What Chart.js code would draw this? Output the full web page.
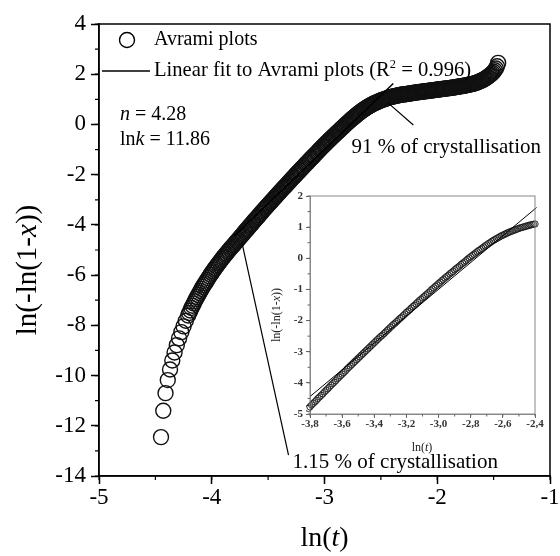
<!DOCTYPE html>
<html>
<head>
<meta charset="utf-8">
<script src="https://cdn.jsdelivr.net/npm/chart.js@4/dist/chart.umd.min.js"></script>
<style>
  html, body { margin: 0; padding: 0; background: #fff; }
  #wrap { position: relative; width: 560px; height: 556px; }
  #main { position: absolute; left: 0; top: 0; }
  #inset { position: absolute; left: 260px; top: 186px; }
</style>
</head>
<body>
<div id="wrap">
  <canvas id="main" width="560" height="556"></canvas>
  <canvas id="inset" width="290" height="280"></canvas>
</div>
<script>
// Avrami plot: ln(t) against ln(-ln(1-x))
const lnT = [
  -4.45, -4.43, -4.41, -4.39, -4.37, -4.35, -4.33, -4.31, -4.29, -4.27,
  -4.25, -4.23, -4.21, -4.20, -4.19, -4.18, -4.17, -4.16, -4.15, -4.14,
  -4.13, -4.12, -4.11, -4.10, -4.09, -4.08, -4.07, -4.06, -4.05, -4.04,
  -4.03, -4.02, -4.01, -4.00, -3.99, -3.98, -3.97, -3.96, -3.95, -3.94,
  -3.93, -3.92, -3.91, -3.90, -3.89, -3.88, -3.87, -3.86, -3.85, -3.84,
  -3.83, -3.82, -3.81, -3.80, -3.79, -3.78, -3.77, -3.76, -3.75, -3.74,
  -3.73, -3.72, -3.71, -3.70, -3.69, -3.68, -3.67, -3.66, -3.65, -3.64,
  -3.63, -3.62, -3.61, -3.60, -3.59, -3.58, -3.57, -3.56, -3.55, -3.54,
  -3.53, -3.52, -3.51, -3.50, -3.49, -3.48, -3.47, -3.46, -3.45, -3.44,
  -3.43, -3.42, -3.41, -3.40, -3.39, -3.38, -3.37, -3.36, -3.35, -3.34,
  -3.33, -3.32, -3.31, -3.30, -3.29, -3.28, -3.27, -3.26, -3.25, -3.24,
  -3.23, -3.22, -3.21, -3.20, -3.19, -3.18, -3.17, -3.16, -3.15, -3.14,
  -3.13, -3.12, -3.11, -3.10, -3.09, -3.08, -3.07, -3.06, -3.05, -3.04,
  -3.03, -3.02, -3.01, -3.00, -2.99, -2.98, -2.97, -2.96, -2.95, -2.94,
  -2.93, -2.92, -2.91, -2.90, -2.89, -2.88, -2.87, -2.86, -2.85, -2.84,
  -2.83, -2.82, -2.81, -2.80, -2.79, -2.78, -2.77, -2.76, -2.75, -2.74,
  -2.73, -2.72, -2.71, -2.70, -2.69, -2.68, -2.67, -2.66, -2.65, -2.64,
  -2.63, -2.62, -2.61, -2.60, -2.59, -2.58, -2.57, -2.56, -2.55, -2.54,
  -2.53, -2.52, -2.51, -2.50, -2.49, -2.48, -2.47, -2.46, -2.45, -2.44,
  -2.43, -2.42, -2.41, -2.40, -2.39, -2.38, -2.37, -2.36, -2.35, -2.34,
  -2.33, -2.32, -2.31, -2.30, -2.29, -2.28, -2.27, -2.26, -2.25, -2.24,
  -2.23, -2.22, -2.21, -2.20, -2.19, -2.18, -2.17, -2.16, -2.15, -2.14,
  -2.13, -2.12, -2.11, -2.10, -2.09, -2.08, -2.07, -2.06, -2.05, -2.04,
  -2.03, -2.02, -2.01, -2.00, -1.99, -1.98, -1.97, -1.96, -1.95, -1.94,
  -1.93, -1.92, -1.91, -1.90, -1.89, -1.88, -1.87, -1.86, -1.85, -1.84,
  -1.83, -1.82, -1.81, -1.80, -1.79, -1.78, -1.77, -1.76, -1.75, -1.74,
  -1.73, -1.72, -1.71, -1.70, -1.69, -1.68, -1.67, -1.66, -1.65, -1.64,
  -1.63, -1.62, -1.61, -1.60, -1.59, -1.58, -1.57, -1.56, -1.55, -1.54,
  -1.53, -1.52, -1.51, -1.50, -1.49, -1.48, -1.47, -1.46
];
const lnLn = [
  -12.45, -11.40, -10.70, -10.18, -9.76, -9.40, -9.08, -8.79, -8.52, -8.27,
  -8.04, -7.82, -7.61, -7.51, -7.41, -7.31, -7.22, -7.13, -7.04, -6.95,
  -6.87, -6.79, -6.71, -6.63, -6.55, -6.47, -6.40, -6.33, -6.26, -6.19,
  -6.12, -6.05, -5.98, -5.91, -5.85, -5.78, -5.72, -5.66, -5.60, -5.54,
  -5.48, -5.42, -5.36, -5.30, -5.25, -5.19, -5.14, -5.08, -5.03, -4.97,
  -4.92, -4.87, -4.82, -4.77, -4.71, -4.66, -4.61, -4.56, -4.50, -4.45,
  -4.40, -4.35, -4.29, -4.24, -4.19, -4.14, -4.08, -4.03, -3.98, -3.93,
  -3.87, -3.82, -3.77, -3.72, -3.67, -3.62, -3.56, -3.51, -3.46, -3.41,
  -3.36, -3.31, -3.26, -3.21, -3.16, -3.11, -3.06, -3.01, -2.96, -2.91,
  -2.86, -2.81, -2.76, -2.71, -2.66, -2.61, -2.56, -2.51, -2.47, -2.42,
  -2.37, -2.32, -2.27, -2.22, -2.17, -2.12, -2.08, -2.03, -1.98, -1.93,
  -1.89, -1.84, -1.79, -1.74, -1.70, -1.65, -1.60, -1.55, -1.51, -1.46,
  -1.41, -1.36, -1.32, -1.27, -1.23, -1.18, -1.14, -1.09, -1.04, -0.99,
  -0.95, -0.90, -0.86, -0.81, -0.77, -0.72, -0.68, -0.63, -0.59, -0.55,
  -0.50, -0.46, -0.42, -0.37, -0.33, -0.29, -0.25, -0.20, -0.16, -0.12,
  -0.08, -0.03, 0.01, 0.05, 0.09, 0.13, 0.17, 0.21, 0.25, 0.28,
  0.32, 0.36, 0.40, 0.43, 0.47, 0.50, 0.54, 0.57, 0.60, 0.63,
  0.66, 0.69, 0.72, 0.74, 0.77, 0.79, 0.82, 0.84, 0.86, 0.88,
  0.90, 0.92, 0.94, 0.96, 0.98, 0.99, 1.01, 1.02, 1.04, 1.05,
  1.07, 1.08, 1.09, 1.10, 1.11, 1.12, 1.13, 1.14, 1.15, 1.16,
  1.17, 1.18, 1.19, 1.19, 1.20, 1.20, 1.21, 1.22, 1.22, 1.23,
  1.24, 1.25, 1.25, 1.26, 1.27, 1.27, 1.28, 1.29, 1.29, 1.30,
  1.30, 1.31, 1.32, 1.32, 1.33, 1.33, 1.34, 1.35, 1.35, 1.36,
  1.36, 1.37, 1.38, 1.38, 1.39, 1.39, 1.40, 1.41, 1.41, 1.42,
  1.42, 1.43, 1.44, 1.44, 1.45, 1.45, 1.46, 1.47, 1.47, 1.48,
  1.49, 1.50, 1.50, 1.51, 1.52, 1.53, 1.53, 1.54, 1.55, 1.56,
  1.57, 1.58, 1.59, 1.60, 1.61, 1.62, 1.63, 1.65, 1.66, 1.68,
  1.70, 1.72, 1.74, 1.76, 1.78, 1.81, 1.84, 1.87, 1.90, 1.94,
  1.97, 2.01, 2.05, 2.10, 2.16, 2.23, 2.32, 2.45
];

// linear fit over 1.15 % .. 91 % of crystallisation
const fitLnT = [-3.80, -2.39];
const fitLnLn = [-4.44, 1.63];
const avramiN = '4.28';
const avramiLnK = '11.86';
const fitR2 = '0.996';

const serif = '"Liberation Serif", "Times New Roman", serif';

function fontOf(size, italic, bold) {
  return (italic ? 'italic ' : '') + (bold ? 'bold ' : '') + size + 'px ' + serif;
}

// draw a run of text pieces; style '' | 'i' (italic) | 'sup' (superscript)
function richText(ctx, parts, x, y, size, align) {
  ctx.save();
  ctx.textBaseline = 'middle';
  ctx.textAlign = 'left';
  const widths = parts.map(([t, s]) => {
    ctx.font = fontOf(s === 'sup' ? size * 0.6 : size, s === 'i');
    return ctx.measureText(t).width;
  });
  const total = widths.reduce((a, b) => a + b, 0);
  let cx = align === 'center' ? x - total / 2 : x;
  parts.forEach(([t, s], i) => {
    ctx.font = fontOf(s === 'sup' ? size * 0.6 : size, s === 'i');
    ctx.fillText(t, cx, s === 'sup' ? y - size * 0.32 : y);
    cx += widths[i];
  });
  ctx.restore();
}

function rotatedText(ctx, parts, x, y, size) {
  ctx.save();
  ctx.translate(x, y);
  ctx.rotate(-Math.PI / 2);
  richText(ctx, parts, 0, 0, size, 'center');
  ctx.restore();
}

function toPoints(xs, ys) {
  return xs.map((v, i) => ({ x: v, y: ys[i] }));
}

// box round the plot area
const frame = {
  id: 'frame',
  afterDraw(chart, args, opts) {
    const { ctx, chartArea: a } = chart;
    ctx.save();
    ctx.strokeStyle = opts.color;
    ctx.lineWidth = opts.width;
    ctx.strokeRect(a.left, a.top, a.right - a.left, a.bottom - a.top);
    ctx.restore();
  }
};

// short outward ticks between the labelled ones
const minorTicks = {
  id: 'minorTicks',
  afterDraw(chart, args, opts) {
    const { ctx, chartArea: a, scales: { x, y } } = chart;
    ctx.save();
    ctx.strokeStyle = opts.color;
    ctx.lineWidth = opts.width;
    ctx.beginPath();
    const nx = Math.round((x.max - x.min) / opts.xStep);
    for (let i = 0; i <= nx; i++) {
      const px = x.getPixelForValue(x.min + i * opts.xStep);
      ctx.moveTo(px, a.bottom);
      ctx.lineTo(px, a.bottom + opts.length);
    }
    const ny = Math.round((y.max - y.min) / opts.yStep);
    for (let i = 0; i <= ny; i++) {
      const py = y.getPixelForValue(y.min + i * opts.yStep);
      ctx.moveTo(a.left, py);
      ctx.lineTo(a.left - opts.length, py);
    }
    ctx.stroke();
    ctx.restore();
  }
};

const mainLabels = {
  id: 'mainLabels',
  afterDraw(chart) {
    const { ctx, chartArea: a, scales: { x, y } } = chart;
    ctx.save();
    ctx.fillStyle = '#000';
    ctx.strokeStyle = '#000';

    // legend
    ctx.lineWidth = 1.4;
    ctx.beginPath();
    ctx.arc(a.left + 28, a.top + 16, 7.5, 0, Math.PI * 2);
    ctx.stroke();
    richText(ctx, [['Avrami plots', '']], a.left + 55, a.top + 16, 20);
    ctx.lineWidth = 1.5;
    ctx.beginPath();
    ctx.moveTo(a.left + 3, a.top + 47);
    ctx.lineTo(a.left + 51, a.top + 47);
    ctx.stroke();
    richText(ctx, [['Linear fit to Avrami plots (R', ''], ['2', 'sup'], [' = ' + fitR2 + ')', '']],
      a.left + 55, a.top + 47, 20.6);

    // fit parameters
    richText(ctx, [['n', 'i'], [' = ' + avramiN, '']], a.left + 21, a.top + 91, 20);
    richText(ctx, [['ln', ''], ['k', 'i'], [' = ' + avramiLnK, '']], a.left + 21, a.top + 116, 20);

    // pointers to the ends of the fitted range
    ctx.lineWidth = 1.2;
    ctx.beginPath();
    ctx.moveTo(x.getPixelForValue(-2.434), y.getPixelForValue(0.85));
    ctx.lineTo(x.getPixelForValue(-2.212), y.getPixelForValue(-0.02));
    ctx.moveTo(x.getPixelForValue(-3.728), y.getPixelForValue(-4.80));
    ctx.lineTo(x.getPixelForValue(-3.319), y.getPixelForValue(-13.17));
    ctx.stroke();
    richText(ctx, [['91 % of crystallisation', '']], x.getPixelForValue(-2.761), y.getPixelForValue(-0.9), 21);
    richText(ctx, [['1.15 % of crystallisation', '']], x.getPixelForValue(-3.283), y.getPixelForValue(-13.45), 21);

    // axis titles
    richText(ctx, [['ln(', ''], ['t', 'i'], [')', '']], (a.left + a.right) / 2, a.bottom + 63, 28, 'center');
    rotatedText(ctx, [['ln(-ln(1-', ''], ['x', 'i'], ['))', '']], a.left - 71, a.top + 246, 29);
    ctx.restore();
  }
};

const insetLabels = {
  id: 'insetLabels',
  afterDraw(chart) {
    const { ctx, chartArea: a } = chart;
    ctx.save();
    ctx.fillStyle = '#222';
    richText(ctx, [['ln(', ''], ['t', 'i'], [')', '']], a.left + 112, a.bottom + 34, 12, 'center');
    rotatedText(ctx, [['ln(-ln(1-', ''], ['x', 'i'], ['))', '']], a.left - 33, a.top + 119, 12);
    ctx.restore();
  }
};

new Chart(document.getElementById('main'), {
  type: 'scatter',
  data: {
    datasets: [
      {
        data: toPoints(fitLnT, fitLnLn),
        showLine: true,
        borderColor: '#000',
        borderWidth: 1.5,
        pointRadius: 0
      },
      {
        data: toPoints(lnT, lnLn),
        pointRadius: 7.5,
        pointBorderWidth: 1.4,
        pointBorderColor: '#111',
        pointBackgroundColor: 'rgba(0,0,0,0)'
      }
    ]
  },
  options: {
    responsive: false,
    animation: false,
    events: [],
    layout: { padding: { top: 24, right: 10, left: 0, bottom: 0 } },
    plugins: {
      legend: { display: false },
      tooltip: { enabled: false },
      frame: { color: '#000', width: 1.5 },
      minorTicks: { xStep: 0.5, yStep: 1, length: 4, color: '#000', width: 1.2 }
    },
    scales: {
      x: {
        type: 'linear', min: -5, max: -1,
        ticks: { stepSize: 1, color: '#000', padding: 0, maxRotation: 0, font: { family: serif, size: 23 } },
        grid: { drawOnChartArea: false, drawTicks: true, tickLength: 8, tickColor: '#000', tickWidth: 1.5 },
        border: { color: '#000', width: 1.5 },
        afterFit(s) { s.height = 80; s.paddingLeft = 0; s.paddingRight = 0; }
      },
      y: {
        type: 'linear', min: -14, max: 4,
        ticks: { stepSize: 2, color: '#000', padding: 5, font: { family: serif, size: 23 } },
        grid: { drawOnChartArea: false, drawTicks: true, tickLength: 8, tickColor: '#000', tickWidth: 1.5 },
        border: { color: '#000', width: 1.5 },
        afterFit(s) { s.width = 99; s.paddingTop = 0; s.paddingBottom = 0; }
      }
    }
  },
  plugins: [frame, minorTicks, mainLabels]
});

// inset: the fitted range close up
new Chart(document.getElementById('inset'), {
  type: 'scatter',
  data: {
    datasets: [
      {
        data: toPoints(fitLnT, fitLnLn),
        showLine: true,
        borderColor: '#000',
        borderWidth: 1,
        pointRadius: 0,
        clip: 4
      },
      {
        data: toPoints(lnT, lnLn),
        pointRadius: 3.2,
        pointBorderWidth: 0.9,
        pointBorderColor: '#1a1a1a',
        pointBackgroundColor: 'rgba(0,0,0,0)',
        clip: 4
      }
    ]
  },
  options: {
    responsive: false,
    animation: false,
    events: [],
    layout: { padding: { top: 10, right: 15, left: 0, bottom: 0 } },
    plugins: {
      legend: { display: false },
      tooltip: { enabled: false },
      frame: { color: '#888', width: 1 },
      minorTicks: { xStep: 0.1, yStep: 0.5, length: 2.5, color: '#666', width: 1 }
    },
    scales: {
      x: {
        type: 'linear', min: -3.8, max: -2.4,
        ticks: {
          stepSize: 0.2, color: '#333', padding: 0, maxRotation: 0,
          font: { family: serif, size: 11, weight: 'bold' },
          callback: v => v.toFixed(1).replace('.', ',')
        },
        grid: { drawOnChartArea: false, drawTicks: true, tickLength: 4, tickColor: '#666', tickWidth: 1 },
        border: { color: '#888', width: 1 },
        afterFit(s) { s.height = 52; s.paddingLeft = 0; s.paddingRight = 0; }
      },
      y: {
        type: 'linear', min: -5, max: 2,
        ticks: { stepSize: 1, color: '#333', padding: 3, font: { family: serif, size: 11, weight: 'bold' } },
        grid: { drawOnChartArea: false, drawTicks: true, tickLength: 4, tickColor: '#666', tickWidth: 1 },
        border: { color: '#888', width: 1 },
        afterFit(s) { s.width = 50; s.paddingTop = 0; s.paddingBottom = 0; }
      }
    }
  },
  plugins: [frame, minorTicks, insetLabels]
});
</script>
</body>
</html>
